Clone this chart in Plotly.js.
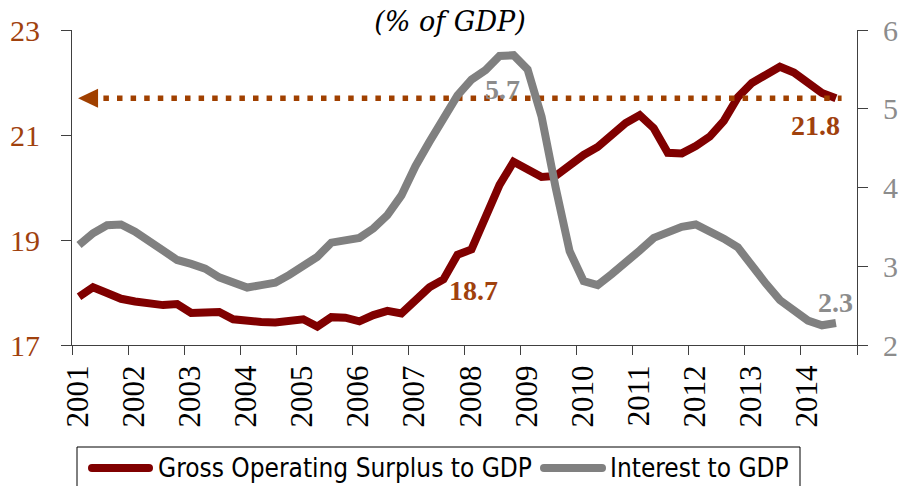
<!DOCTYPE html>
<html>
<head>
<meta charset="utf-8">
<script src="https://cdn.plot.ly/plotly-3.0.1.min.js"></script>
<style>html,body{margin:0;padding:0;background:#fff;}#chart{width:899px;height:486px;}</style>
</head>
<body>
<div id="chart"></div>
<script>
// ---- data (quarterly, 2001Q1 .. 2014Q3) ----
const startYear = 2001;
const nQuarters = 55;
const years = ["2001","2002","2003","2004","2005","2006","2007","2008","2009","2010","2011","2012","2013","2014"];
const surplusToGDP = [17.92,18.10,17.99,17.88,17.83,17.81,17.76,17.78,17.61,17.62,
  17.63,17.49,17.45,17.44,17.43,17.46,17.49,17.35,17.53,17.52,
  17.45,17.57,17.65,17.60,17.83,18.10,18.25,18.72,18.82,19.40,
  20.05,20.49,20.33,20.20,20.22,20.42,20.62,20.77,20.98,21.23,
  21.38,21.13,20.66,20.65,20.79,20.97,21.27,21.72,21.99,22.14,
  22.30,22.19,21.99,21.80,21.70];
const interestToGDP = [3.27,3.42,3.52,3.53,3.44,3.32,3.21,3.08,3.03,2.97,
  2.86,2.80,2.73,2.76,2.79,2.89,3.02,3.12,3.30,3.34,
  3.36,3.48,3.65,3.90,4.27,4.58,4.87,5.17,5.37,5.49,
  5.67,5.68,5.50,4.90,4.00,3.19,2.81,2.76,2.90,3.04,
  3.20,3.36,3.43,3.50,3.53,3.45,3.35,3.24,3.00,2.78,
  2.57,2.45,2.31,2.25,2.28];
const seriesNames = ["Gross Operating Surplus to GDP", "Interest to GDP"];
const labelTexts = ["5.7", "21.8", "18.7", "2.3"];
const titleText = "(% of GDP)";

// quarter mid-points as fractional years
const xq = [];
for (let i = 0; i < nQuarters; i++) xq.push(startYear + (i % 4 + 0.5) / 4 + Math.floor(i / 4));

const RED = "#800000", GRAY = "#808080", BROWN = "#A0410D", LGRAY = "#8C8C8C", AX = "#404040";
const SERIF = "Liberation Serif, Times New Roman, serif";
const NARROW = "DejaVu Sans Condensed, Liberation Sans Narrow, Liberation Serif, serif";

// pixel -> paper helpers (plot area: x 72..857, y 30..345)
const L = 72, R = 857, T = 30, B = 345;
const px = p => (p - L) / (R - L);
const py = p => (B - p) / (B - T);

const lastRed = surplusToGDP[surplusToGDP.length - 1];
const lastX = xq[xq.length - 1];

const traces = [
  {x: xq, y: surplusToGDP, type: "scatter", mode: "lines", name: seriesNames[0],
   line: {color: RED, width: 8}, yaxis: "y"},
  {x: xq, y: interestToGDP, type: "scatter", mode: "lines", name: seriesNames[1],
   line: {color: GRAY, width: 8}, yaxis: "y2"},
  {x: [startYear + 0.56, lastX + 0.1], y: [lastRed, lastRed], type: "scatter", mode: "lines",
   line: {color: "#A04000", width: 5.5, dash: "5.5px,8.1px"}, yaxis: "y", hoverinfo: "skip"}
];

const tickvals = years.map(Number).concat([Number(years[years.length - 1]) + 1]);
const ticktext = years.concat([""]);

const shapes = [
  // arrow head at the left end of the dotted reference line
  {type: "path", xref: "x", yref: "y", xsizemode: "pixel", ysizemode: "pixel",
   xanchor: startYear + 0.286, yanchor: lastRed,
   path: "M-10,0 L10,-9.5 L10,9.5 Z", fillcolor: "#A04000", line: {width: 0}},
  // legend box
  {type: "rect", xref: "paper", yref: "paper", x0: px(77), x1: px(800), y0: py(447), y1: py(530),
   line: {color: "#000", width: 1}, fillcolor: "rgba(0,0,0,0)"},
  // legend swatches
  {type: "line", xref: "paper", yref: "paper", x0: px(92), x1: px(149), y0: py(468), y1: py(468),
   line: {color: RED, width: 8}},
  {type: "line", xref: "paper", yref: "paper", x0: px(544), x1: px(602), y0: py(468), y1: py(468),
   line: {color: GRAY, width: 8}}
];
[[92, RED], [149, RED], [544, GRAY], [602, GRAY]].forEach(([cx, c]) => {
  shapes.push({type: "circle", xref: "paper", yref: "paper", xsizemode: "pixel", ysizemode: "pixel",
    xanchor: px(cx), yanchor: py(468), x0: -4, x1: 4, y0: -4, y1: 4,
    fillcolor: c, line: {width: 0}});
});

const annotations = [
  {xref: "paper", yref: "paper", x: px(502), y: py(89), text: labelTexts[0], showarrow: false,
   xanchor: "center", yanchor: "middle", font: {family: SERIF, size: 28, color: LGRAY, weight: "bold"}},
  {xref: "paper", yref: "paper", x: px(815), y: py(125), text: labelTexts[1], showarrow: false,
   xanchor: "center", yanchor: "middle", font: {family: SERIF, size: 28, color: BROWN, weight: "bold"}},
  {xref: "paper", yref: "paper", x: px(473), y: py(290), text: labelTexts[2], showarrow: false,
   xanchor: "center", yanchor: "middle", font: {family: SERIF, size: 28, color: BROWN, weight: "bold"}},
  {xref: "paper", yref: "paper", x: px(835), y: py(302), text: labelTexts[3], showarrow: false,
   xanchor: "center", yanchor: "middle", font: {family: SERIF, size: 28, color: LGRAY, weight: "bold"}},
  // legend labels
  {xref: "paper", yref: "paper", x: px(156), y: py(468), text: seriesNames[0], showarrow: false,
   xanchor: "left", yanchor: "middle", font: {family: NARROW, size: 26, color: "#000"}},
  {xref: "paper", yref: "paper", x: px(608), y: py(468), text: seriesNames[1], showarrow: false,
   xanchor: "left", yanchor: "middle", font: {family: NARROW, size: 26, color: "#000"}}
];

const layout = {
  width: 899, height: 486,
  margin: {l: L, r: 899 - R, t: T, b: 486 - B, pad: 0},
  paper_bgcolor: "#fff", plot_bgcolor: "#fff",
  showlegend: false,
  title: {text: titleText, x: 450 / 899, xanchor: "center", y: 1 - 22 / 486, yanchor: "middle",
    font: {family: "DejaVu Serif, serif", size: 27, style: "italic", color: "#000"}},
  xaxis: {range: [startYear, startYear + 14], tickmode: "array", tickvals: tickvals, ticktext: ticktext,
    tickangle: -90, ticks: "outside", ticklen: 9, tickcolor: AX, tickwidth: 1,
    showline: true, linecolor: AX, linewidth: 1, showgrid: false, zeroline: false,
    tickfont: {family: SERIF, size: 31, color: "#000"}, ticklabelshift: 6, ticklabelstandoff: -2},
  yaxis: {range: [17, 23], tickvals: [17, 19, 21, 23], ticks: "outside", ticklen: 10, tickcolor: AX,
    showline: true, linecolor: AX, linewidth: 1, showgrid: false, zeroline: false,
    tickfont: {family: SERIF, size: 30, color: BROWN}, ticklabelstandoff: 15},
  yaxis2: {range: [2, 6], tickvals: [2, 3, 4, 5, 6], overlaying: "y", side: "right", ticks: "outside",
    ticklen: 10, tickcolor: AX, showline: true, linecolor: AX, linewidth: 1, showgrid: false,
    zeroline: false, tickfont: {family: SERIF, size: 30, color: LGRAY}, ticklabelstandoff: 9},
  shapes: shapes,
  annotations: annotations
};

Plotly.newPlot("chart", traces, layout, {displayModeBar: false, staticPlot: true});
</script>
</body>
</html>
